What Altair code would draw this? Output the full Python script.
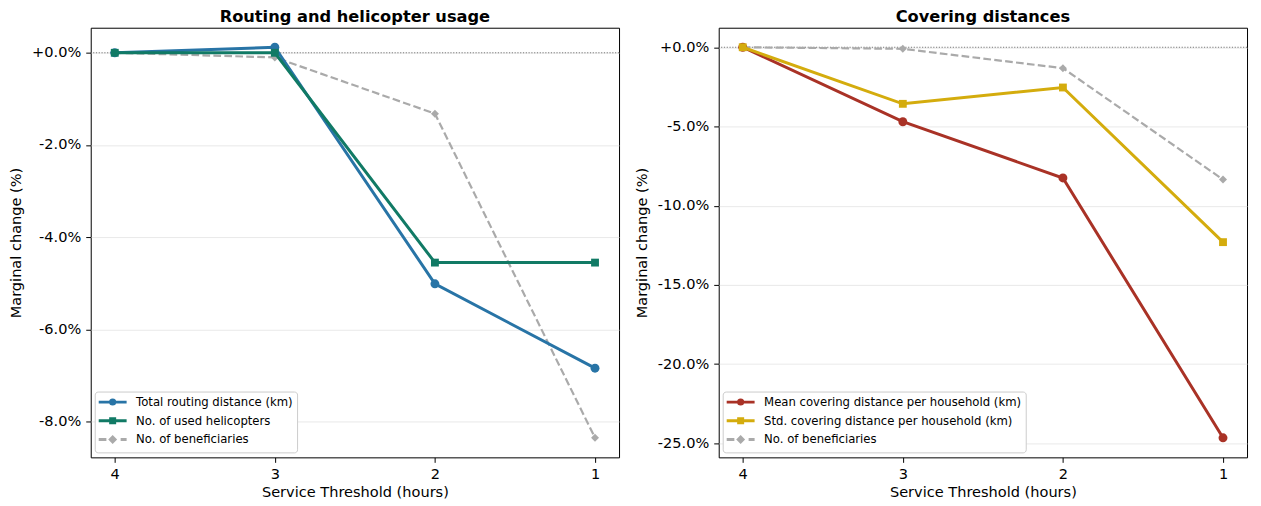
import altair as alt
import pandas as pd

# ---------------- data ----------------
thresholds = [4, 3, 2, 1]

routing_distance = [0.0, 0.12, -5.01, -6.84]
used_helicopters = [0.0, 0.0, -4.55, -4.55]
beneficiaries = [0.0, -0.10, -1.32, -8.35]

mean_covering = [0.0, -4.70, -8.25, -24.65]
std_covering = [0.0, -3.57, -2.54, -12.30]

left_names = ["Total routing distance (km)", "No. of used helicopters", "No. of beneficiaries"]
right_names = ["Mean covering distance per household (km)",
               "Std. covering distance per household (km)",
               "No. of beneficiaries"]

panel_titles = ["Routing and helicopter usage", "Covering distances"]
x_ticks = [4, 3, 2, 1]
left_y_ticks = [0, -2, -4, -6, -8]
right_y_ticks = [0, -5, -10, -15, -20, -25]
x_title = "Service Threshold (hours)"
y_title = "Marginal change (%)"

# ---------------- styles ----------------
FONT = "DejaVu Sans"
BLUE, GREEN, GRAY, RED, YELLOW = "#2874A6", "#117A65", "#AAAAAA", "#A93226", "#D4AC0D"
DASH = [7.7, 3.3]
W, H = 530, 431

LEG_PATHS = {
    "circle": "M-2.8,0L2.8,0M-0.44,0A0.44,0.44,0,1,0,0.44,0A0.44,0.44,0,1,0,-0.44,0Z",
    "square": "M-2.8,0L2.8,0M-0.42,-0.42L0.42,-0.42L0.42,0.42L-0.42,0.42Z",
    "diamond": "M-2.8,0L-1.26,0M1.6,0L2.8,0M0,-0.5L0.5,0L0,0.5L-0.5,0Z",
}
MARK_SIZE = {"circle": 80, "square": 62, "diamond": 64}

LABEL_EXPR = ("(datum.value >= 0 ? '+' : '-') + format(abs(datum.value), '.1f') + '%'")


def panel(title, names, series_vals, colors, markers, dashed, y_ticks):
    rows = []
    for name, vals in zip(names, series_vals):
        for t, v in zip(thresholds, vals):
            rows.append({"threshold": t, "value": v, "series": name})
    df = pd.DataFrame(rows)

    allv = [v for vals in series_vals for v in vals]
    lo, hi = min(allv), max(allv)
    pad = 0.05 * (hi - lo)
    xlo, xhi = min(thresholds), max(thresholds)
    xpad = 0.05 * (xhi - xlo)

    x = alt.X("threshold:Q",
              scale=alt.Scale(domain=[xhi + xpad, xlo - xpad], nice=False, zero=False),
              axis=alt.Axis(values=x_ticks, format="d", title=x_title, grid=False,
                            labelPadding=4, titlePadding=4))
    y = alt.Y("value:Q",
              scale=alt.Scale(domain=[lo - pad, hi + pad], nice=False, zero=False),
              axis=alt.Axis(values=y_ticks, labelExpr=LABEL_EXPR, title=y_title, grid=True,
                            labelPadding=5, titlePadding=8))

    base = alt.Chart(df)
    layers = []

    zero = alt.Chart(pd.DataFrame({"value": [0]})).mark_rule(
        color="#555555", strokeWidth=0.8, strokeDash=[1.2, 1.6]
    ).encode(y=y)
    layers.append(zero)

    # draw dashed reference series first, then the solid ones
    order = [i for i in range(len(names)) if dashed[i]] + [i for i in range(len(names)) if not dashed[i]]
    for i in order:
        name = names[i]
        sub = base.transform_filter(alt.datum.series == name)
        line_kw = dict(color=colors[i], strokeWidth=2.2 if dashed[i] else 3.0)
        if dashed[i]:
            line_kw["strokeDash"] = DASH
        layers.append(sub.mark_line(**line_kw).encode(x=x, y=y))
        layers.append(sub.mark_point(filled=True, opacity=1, color=colors[i],
                                     shape=markers[i], size=MARK_SIZE[markers[i]]).encode(x=x, y=y))

    leg = alt.Legend(title=None, orient="none", legendX=4, legendY=365,
                     labelFont=FONT, labelFontSize=11.7, labelColor="black", labelLimit=500,
                     symbolSize=100, symbolStrokeWidth=2.8, symbolOpacity=1,
                     symbolOffset=7.5, labelOffset=17, rowPadding=1.8,
                     padding=4, strokeColor="#cccccc", fillColor="white",
                     cornerRadius=3)
    legend_layer = base.mark_point(filled=False, opacity=0, size=100).encode(
        x=x, y=y,
        shape=alt.Shape("series:N", scale=alt.Scale(domain=names, range=[LEG_PATHS[m] for m in markers]), legend=leg),
        stroke=alt.Stroke("series:N", scale=alt.Scale(domain=names, range=colors), legend=leg),
        fill=alt.Fill("series:N", scale=alt.Scale(domain=names, range=colors), legend=leg),
    )
    layers.append(legend_layer)

    return alt.layer(*layers).properties(
        width=W, height=H,
        title=alt.TitleParams(title, fontSize=16.3, fontWeight="bold", font=FONT,
                              color="black", offset=2, anchor="middle"),
    )


left = panel(panel_titles[0], left_names, [routing_distance, used_helicopters, beneficiaries],
             [BLUE, GREEN, GRAY], ["circle", "square", "diamond"], [False, False, True], left_y_ticks)
right = panel(panel_titles[1], right_names, [mean_covering, std_covering, beneficiaries],
              [RED, YELLOW, GRAY], ["circle", "square", "diamond"], [False, False, True], right_y_ticks)

chart = alt.hconcat(left, right, spacing=13).resolve_scale(
    shape="independent", fill="independent", stroke="independent",
    x="independent", y="independent"
).resolve_legend(
    shape="independent", fill="independent", stroke="independent"
).properties(
    padding={"left": 0, "top": 0, "right": 5, "bottom": 0}
).configure(font=FONT).configure_view(
    stroke="black", strokeWidth=1
).configure_axis(
    domain=False, tickColor="black", tickSize=5, tickWidth=1,
    labelFont=FONT, labelFontSize=14.6, labelColor="black",
    titleFont=FONT, titleFontSize=14.6, titleFontWeight="normal", titleColor="black",
    gridColor="#e3e3e3", gridWidth=0.8,
)

chart.save("out.html", embed_options={"renderer": "svg", "actions": False})
